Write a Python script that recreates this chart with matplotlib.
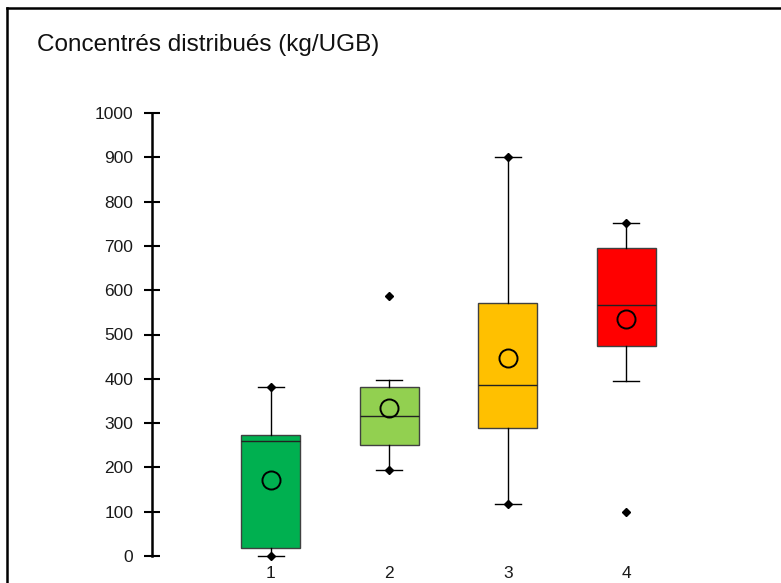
import matplotlib
matplotlib.use("Agg")
import matplotlib.pyplot as plt
from matplotlib.lines import Line2D

plt.rcParams['font.family'] = ['Liberation Sans', 'DejaVu Sans']

# Data
groups = ["1", "2", "3", "4"]
whis_low = [0, 194, 118, 395]
q1 = [18, 250, 290, 474]
median = [260, 316, 385, 566]
q3 = [273, 382, 570, 695]
whis_high = [382, 398, 900, 752]
means = [171, 334, 446, 534]
outliers = [[], [586], [], [100]]
# whisker ends marked with a diamond (min / max points)
diamond_points = [[0, 382], [194], [118, 900], [752]]
colors = ["#00B050", "#92D050", "#FFC000", "#FF0000"]
yticks = [0, 100, 200, 300, 400, 500, 600, 700, 800, 900, 1000]
title = "Concentrés distribués (kg/UGB)"

W, H = 781, 583
fig = plt.figure(figsize=(W / 100, H / 100), dpi=100)
ax = fig.add_axes([152 / W, 27 / H, 593 / W, 443 / H])

positions = list(range(1, len(groups) + 1))
stats = []
for i in range(len(groups)):
    stats.append(dict(med=median[i], q1=q1[i], q3=q3[i],
                      whislo=whis_low[i], whishi=whis_high[i],
                      fliers=outliers[i], mean=means[i]))

bp = ax.bxp(stats, positions=positions, widths=0.5, patch_artist=True,
            showmeans=True, showfliers=True,
            boxprops=dict(edgecolor="#404040", linewidth=1.0),
            medianprops=dict(color="#222222", linewidth=1.0),
            whiskerprops=dict(color="black", linewidth=1.0),
            capprops=dict(color="black", linewidth=1.0),
            capwidths=0.22,
            meanprops=dict(marker="o", markerfacecolor="none",
                           markeredgecolor="black", markersize=13,
                           markeredgewidth=1.4),
            flierprops=dict(marker="D", markerfacecolor="black",
                            markeredgecolor="black", markersize=4.5))
for patch, c in zip(bp["boxes"], colors):
    patch.set_facecolor(c)
for art in bp["whiskers"] + bp["caps"] + bp["fliers"]:
    art.set_clip_on(False)

for pos, pts in zip(positions, diamond_points):
    ax.plot([pos] * len(pts), pts, linestyle="none", marker="D",
            color="black", markersize=4.5, clip_on=False, zorder=5)

ax.set_xlim(0, 5)
ax.set_ylim(0, 1000)
ax.set_yticks(yticks)
ax.set_yticklabels([str(v) for v in yticks], fontsize=12.5, color="#1a1a1a")
ax.set_xticks(positions)
ax.set_xticklabels(groups, fontsize=12.5, color="#1a1a1a")
ax.tick_params(axis="y", direction="inout", length=11, width=1.5,
               pad=8, colors="black")
ax.tick_params(axis="x", length=0, pad=7)
for lbl in ax.get_yticklabels() + ax.get_xticklabels():
    lbl.set_color("#1a1a1a")
for s in ["top", "right", "bottom"]:
    ax.spines[s].set_visible(False)
ax.spines["left"].set_linewidth(1.8)

fig.text(37 / W, 1 - 51 / H, title, fontsize=17.5, ha="left",
         va="baseline", color="#111111")

# outer frame (top and left edges visible)
fig.add_artist(Line2D([7.5 / W, 1.0], [1 - 7.5 / H, 1 - 7.5 / H],
                      transform=fig.transFigure, color="black", linewidth=1.8))
fig.add_artist(Line2D([7.5 / W, 7.5 / W], [0.0, 1 - 7.5 / H],
                      transform=fig.transFigure, color="black", linewidth=1.8))

fig.savefig("out.png", dpi=100)
